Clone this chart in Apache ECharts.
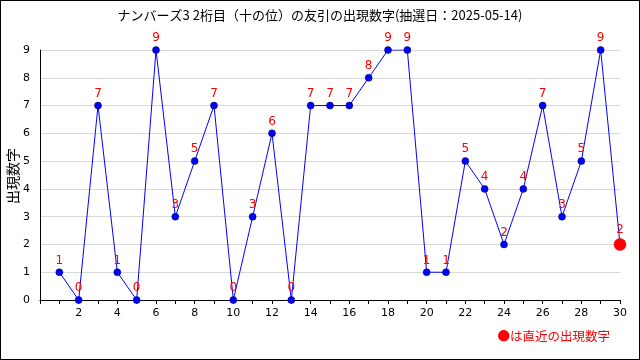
<!DOCTYPE html>
<html><head><meta charset="utf-8">
<script src="https://cdn.jsdelivr.net/npm/echarts@6/dist/echarts.min.js"></script>
<style>html,body{margin:0;padding:0;background:#fff}#c{width:640px;height:360px;box-sizing:border-box;border:1px solid #000}</style>
</head><body><div id="c"></div>
<script>
const titleText = 'ナンバーズ3 2桁目（十の位）の友引の出現数字(抽選日：2025-05-14)';
const draws = [1,2,3,4,5,6,7,8,9,10,11,12,13,14,15,16,17,18,19,20,21,22,23,24,25,26,27,28,29,30];
const digits = [1,0,7,1,0,9,3,5,7,0,3,6,0,7,7,7,8,9,9,1,1,5,4,2,4,7,3,5,9,2];
const yTicks = [0,1,2,3,4,5,6,7,8,9];
const chart = echarts.init(document.getElementById('c'), null, {renderer:'canvas'});
const font = '"DejaVu Sans", sans-serif';
const pts = draws.map((d,i)=>{
  const last = i === draws.length-1;
  return {value:[d,digits[i]], symbolSize: last?12:7, itemStyle:{color:last?'#ff0000':'#0000ff', borderColor:last?'#cc0000':'#000044', borderWidth:0.5}};
});
chart.setOption({
  animation:false,
  title:{text:titleText,left:'center',top:3,textStyle:{fontSize:13,fontWeight:'normal',color:'#000',fontFamily:'"Noto Sans CJK JP", sans-serif'}},
  grid:{left:39,right:19,top:49,bottom:59,outerBoundsMode:'none',containLabel:false},
  xAxis:{type:'value',min:0,max:30,interval:1,
    axisLine:{lineStyle:{color:'#000'}},
    axisTick:{show:true,length:4,lineStyle:{color:'#000'}},
    axisLabel:{color:'#000',fontSize:11,fontFamily:font,margin:8,formatter:v=>(v>0&&v%2===0)?String(v):''},
    splitLine:{show:false}},
  yAxis:{type:'value',min:0,max:9,interval:1,
    axisLine:{show:true,lineStyle:{color:'#000'}},
    axisTick:{show:false},
    axisLabel:{color:'#000',fontSize:11,fontFamily:font,margin:10,formatter:v=>yTicks.includes(v)?String(v):''},
    splitLine:{lineStyle:{color:'#d8d8d8'}}},
  series:[{type:'line',data:pts,symbol:'circle',
    lineStyle:{color:'#0000ff',width:1},
    label:{show:true,position:'top',distance:2,color:'#ff0000',fontSize:12,fontFamily:font,formatter:p=>String(p.value[1])}}],
  graphic:[
    {type:'text',x:12,y:175,rotation:Math.PI/2,style:{text:'出現数字',fill:'#000',fontSize:14,align:'center',verticalAlign:'middle',fontFamily:'"Noto Sans CJK JP", sans-serif'}},
    {type:'text',right:29,top:329,style:{text:'●は直近の出現数字',fill:'#ff0000',fontSize:12.5,fontFamily:'"Noto Sans CJK JP", sans-serif'}}]
});
</script></body></html>
